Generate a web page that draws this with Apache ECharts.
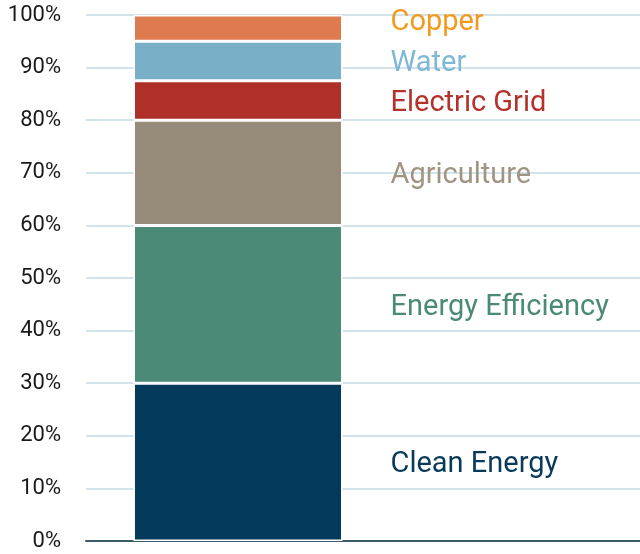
<!DOCTYPE html>
<html>
<head>
<meta charset="utf-8">
<script src="https://cdn.jsdelivr.net/npm/echarts@6/dist/echarts.min.js"></script>
<style>
  html, body { margin: 0; padding: 0; background: #fff; }
  #main { width: 640px; height: 554px; }
</style>
</head>
<body>
<div id="main"></div>
<script>
// segments, bottom to top
var names = ['Clean Energy', 'Energy Efficiency', 'Agriculture', 'Electric Grid', 'Water', 'Copper'];
var shares = [30, 30, 20, 7.5, 7.5, 5];
var barColors = ['#03395a', '#4a8a77', '#968a79', '#ae3029', '#7aafc8', '#dd7b4e'];
var labelColors = ['#0a3a5a', '#4a8a77', '#a09482', '#b5322b', '#7fb8d4', '#f39a1e'];
var yTicks = [0, 10, 20, 30, 40, 50, 60, 70, 80, 90, 100];

var chart = echarts.init(document.getElementById('main'));

// small nudges so labels sit like the original
var labelShift = { 'Copper': -5, 'Water': 3 };

var series = names.map(function (n, i) {
  return {
    name: n,
    type: 'bar',
    stack: 'total',
    xAxisIndex: 1,
    yAxisIndex: 1,
    barWidth: 209,
    data: [shares[i]],
    itemStyle: { color: barColors[i], borderColor: '#fff', borderWidth: 1.5 },
    label: {
      show: true,
      position: 'right',
      distance: 48,
      formatter: n,
      color: labelColors[i],
      fontFamily: 'Roboto',
      fontSize: 29,
      offset: [0, labelShift[n] !== undefined ? labelShift[n] : 3]
    }
  };
});

chart.setOption({
  animation: false,
  grid: [
    { left: 86, right: 0, top: 15, bottom: 13 },
    { left: 86, width: 304, top: 15, bottom: 13 }
  ],
  xAxis: [
    {
      gridIndex: 0, type: 'category', data: [''],
      axisLine: { show: true, lineStyle: { color: '#3d5a6c', width: 2 } },
      axisTick: { show: false }, axisLabel: { show: false }
    },
    {
      gridIndex: 1, type: 'category', data: ['Total'], show: false
    }
  ],
  yAxis: [
    {
      gridIndex: 0, type: 'value', min: 0, max: 100, interval: 10,
      axisLine: { show: false }, axisTick: { show: false },
      axisLabel: {
        formatter: function (v) { return yTicks.indexOf(v) >= 0 ? v + '%' : ''; },
        color: '#1a1a1a', fontFamily: 'Roboto', fontSize: 22, margin: 25
      },
      splitLine: { lineStyle: { color: '#d2e3ec', width: 2 } }
    },
    {
      gridIndex: 1, type: 'value', min: 0, max: 100, show: false,
      splitLine: { show: false }
    }
  ],
  series: series
});
</script>
</body>
</html>
